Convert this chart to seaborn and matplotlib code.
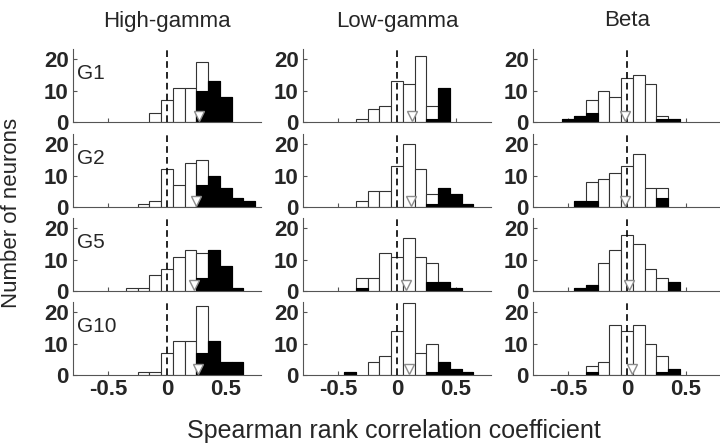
import numpy as np
import seaborn as sns
import matplotlib.pyplot as plt

# ----------------------------------------------------------
# DATA (counts per 0.1-wide bin)
# ----------------------------------------------------------
bin_centers = [-0.7, -0.6, -0.5, -0.4, -0.3, -0.2, -0.1, 0.0,
               0.1, 0.2, 0.3, 0.4, 0.5, 0.6, 0.7]
bin_edges = [-0.75, -0.65, -0.55, -0.45, -0.35, -0.25, -0.15, -0.05,
             0.05, 0.15, 0.25, 0.35, 0.45, 0.55, 0.65, 0.75]

bands = ["High-gamma", "Low-gamma", "Beta"]
groups = ["G1", "G2", "G5", "G10"]

# all neurons (white bars), rows = G1, G2, G5, G10
high_gamma_all = [
    [0, 0, 0, 0, 0, 0, 3, 7, 11, 11, 19, 13, 8, 0, 0],
    [0, 0, 0, 0, 0, 1, 2, 12, 7, 14, 15, 10, 6, 3, 2],
    [0, 0, 0, 0, 1, 1, 5, 7, 11, 13, 12, 13, 8, 1, 0],
    [0, 0, 0, 0, 0, 1, 1, 7, 11, 11, 22, 11, 4, 4, 0],
]
low_gamma_all = [
    [0, 0, 0, 0, 1, 4, 5, 13, 12, 21, 5, 11, 0, 0, 0],
    [0, 0, 0, 0, 2, 5, 5, 13, 20, 12, 4, 6, 4, 1, 0],
    [0, 0, 0, 0, 4, 4, 12, 11, 17, 11, 9, 3, 1, 0, 0],
    [0, 0, 0, 1, 0, 4, 6, 14, 23, 7, 10, 4, 2, 1, 0],
]
beta_all = [
    [0, 0, 1, 2, 7, 10, 8, 14, 15, 12, 2, 1, 0, 0, 0],
    [0, 0, 0, 2, 8, 9, 11, 13, 17, 6, 6, 0, 0, 0, 0],
    [0, 0, 0, 1, 2, 9, 13, 18, 15, 7, 4, 3, 0, 0, 0],
    [0, 0, 0, 0, 3, 4, 16, 14, 16, 10, 6, 2, 0, 0, 0],
]

# significant neurons (black bars)
high_gamma_sig = [
    [0, 0, 0, 0, 0, 0, 0, 0, 0, 0, 10, 13, 8, 0, 0],
    [0, 0, 0, 0, 0, 0, 0, 0, 0, 0, 7, 10, 6, 3, 2],
    [0, 0, 0, 0, 0, 0, 0, 0, 0, 0, 4, 13, 8, 1, 0],
    [0, 0, 0, 0, 0, 0, 0, 0, 0, 0, 7, 11, 4, 4, 0],
]
low_gamma_sig = [
    [0, 0, 0, 0, 0, 0, 0, 0, 0, 0, 1, 11, 0, 0, 0],
    [0, 0, 0, 0, 0, 0, 0, 0, 0, 0, 1, 6, 4, 1, 0],
    [0, 0, 0, 0, 1, 0, 0, 0, 0, 0, 3, 3, 1, 0, 0],
    [0, 0, 0, 1, 0, 0, 0, 0, 0, 0, 1, 4, 2, 1, 0],
]
beta_sig = [
    [0, 0, 1, 2, 3, 0, 0, 0, 0, 0, 1, 1, 0, 0, 0],
    [0, 0, 0, 2, 2, 0, 0, 0, 0, 0, 3, 0, 0, 0, 0],
    [0, 0, 0, 1, 2, 0, 0, 0, 0, 0, 0, 3, 0, 0, 0],
    [0, 0, 0, 0, 1, 0, 0, 0, 0, 0, 1, 2, 0, 0, 0],
]

# median markers (gray triangles)
high_gamma_median = [0.27, 0.25, 0.23, 0.26]
low_gamma_median = [0.13, 0.12, 0.08, 0.10]
beta_median = [-0.02, -0.02, 0.02, 0.04]

all_counts = [high_gamma_all, low_gamma_all, beta_all]
sig_counts = [high_gamma_sig, low_gamma_sig, beta_sig]
medians = [high_gamma_median, low_gamma_median, beta_median]

# ----------------------------------------------------------
# FIGURE
# ----------------------------------------------------------
sns.set_style("ticks")
plt.rcParams['font.family'] = ['Liberation Sans', 'DejaVu Sans']

W, H = 720, 446
fig = plt.figure(figsize=(W / 100, H / 100), dpi=100)

col_left = [73, 303, 533]
row_top = [49, 134, 218, 302]
ax_w, ax_h = 188, 73
spine_col = "#555555"


def drop_empty(ax, start=0):
    # histplot draws zero-height bins as flat lines; remove them
    for p in list(ax.patches)[start:]:
        if p.get_height() == 0:
            p.remove()


for c, band in enumerate(bands):
    for r, grp in enumerate(groups):
        ax = fig.add_axes([col_left[c] / W, 1 - (row_top[r] + ax_h) / H,
                           ax_w / W, ax_h / H])

        sns.histplot(x=bin_centers, weights=all_counts[c][r], bins=bin_edges,
                     color="white", edgecolor="#333333", linewidth=0.8,
                     alpha=1, ax=ax)
        drop_empty(ax)
        n_white = len(ax.patches)
        sns.histplot(x=bin_centers, weights=sig_counts[c][r], bins=bin_edges,
                     color="black", edgecolor="black", linewidth=0.8,
                     alpha=1, ax=ax)
        drop_empty(ax, n_white)

        ax.axvline(0, color="black", lw=1.2, ls=(0, (4, 2.5)), zorder=5)
        ax.plot([medians[c][r]], [1.8], marker="v", ms=7, mfc="white",
                mec="#8c8c8c", mew=1.0, ls="none", zorder=6)

        ax.set_xlim(-0.8, 0.8)
        ax.set_ylim(0, 23.3)
        ax.set_xticks([-0.5, 0, 0.5])
        ax.set_yticks([0, 10, 20])
        ax.set_xlabel("")
        ax.set_ylabel("")
        sns.despine(ax=ax)
        for s in ["left", "bottom"]:
            ax.spines[s].set_color(spine_col)
            ax.spines[s].set_linewidth(0.8)
        ax.tick_params(direction="in", length=3, width=0.8, color=spine_col,
                       pad=3)
        ax.set_yticklabels(["0", "10", "20"], fontweight="bold", fontsize=16)
        if r == len(groups) - 1:
            ax.set_xticklabels(["-0.5", "0", "0.5"], fontweight="bold",
                               fontsize=16)
        else:
            ax.set_xticklabels([])

        if c == 0:
            ax.text(0.02, 0.67, grp, transform=ax.transAxes, fontsize=15,
                    ha="left", va="center")

    fig.text((col_left[c] + ax_w / 2) / W, 1 - 21 / H, band, fontsize=16,
             ha="center", va="center")

fig.text(12 / W, 1 - 213 / H, "Number of neurons", rotation=90, fontsize=16,
         ha="center", va="center")
fig.text(394 / W, 1 - 431 / H, "Spearman rank correlation coefficient",
         fontsize=18, ha="center", va="center")

fig.savefig("out.png", dpi=100)
